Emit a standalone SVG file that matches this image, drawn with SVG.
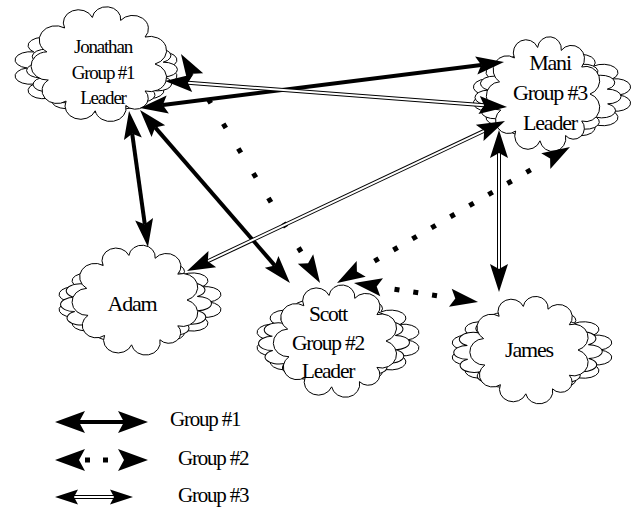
<svg xmlns="http://www.w3.org/2000/svg" width="636" height="509" viewBox="0 0 636 509">
<style>
.cl{fill:#fff;stroke:#000;stroke-width:1}
text{font-family:"Liberation Serif","Times New Roman",serif;fill:#000;text-anchor:middle;letter-spacing:-1.2px}
.lg{text-anchor:start}
.g1{fill:none;stroke:#000;stroke-width:4}
.g2{fill:none;stroke:#000;stroke-width:5}
.g3o{fill:none;stroke:#000;stroke-width:4}
.g3i{fill:none;stroke:#fff;stroke-width:2}
.mk{fill:none;stroke:none}
</style>
<defs>
<path id="cf" vector-effect="non-scaling-stroke" d="M1,0 A.1,.1 0 0 1 .819,.574 A.1,.1 0 0 1 .469,.883 A.1,.1 0 0 1 -.087,.996 A.1,.1 0 0 1 -.616,.788 A.1,.1 0 0 1 -.94,.342 A.1,.1 0 0 1 -.966,-.259 A.1,.1 0 0 1 -.643,-.766 A.1,.1 0 0 1 -.139,-.99 A.1,.1 0 0 1 .375,-.927 A.1,.1 0 0 1 .819,-.574 A.1,.1 0 0 1 1,0 Z"/>
<path id="cb" vector-effect="non-scaling-stroke" d="M1,0 A.1,.1 0 0 1 .901,.434 A.1,.1 0 0 1 .623,.782 A.1,.1 0 0 1 .223,.975 A.1,.1 0 0 1 -.223,.975 A.1,.1 0 0 1 -.623,.782 A.1,.1 0 0 1 -.901,.434 A.1,.1 0 0 1 -1,0 A.1,.1 0 0 1 -.901,-.434 A.1,.1 0 0 1 -.623,-.782 A.1,.1 0 0 1 -.223,-.975 A.1,.1 0 0 1 .223,-.975 A.1,.1 0 0 1 .623,-.782 A.1,.1 0 0 1 .901,-.434 A.1,.1 0 0 1 1,0 Z"/>
<marker id="ah" viewBox="-6 -10 32 20" refX="0" refY="0" markerWidth="32" markerHeight="20" markerUnits="userSpaceOnUse" orient="auto-start-reverse" overflow="visible"><path d="M-5,-9 L23,0 L-5,9 L0,0 Z" fill="#000"/></marker>
<marker id="ahL" viewBox="-7 -12 32 24" refX="0" refY="0" markerWidth="32" markerHeight="24" markerUnits="userSpaceOnUse" orient="auto-start-reverse" overflow="visible"><path d="M-6,-11 L24,0 L-6,11 L0,0 Z" fill="#000"/></marker>
<marker id="ahS" viewBox="-5 -8 25 16" refX="0" refY="0" markerWidth="25" markerHeight="16" markerUnits="userSpaceOnUse" orient="auto-start-reverse" overflow="visible"><path d="M-4,-7.5 L19,0 L-4,7.5 L0,0 Z" fill="#000"/></marker>
</defs>

<g id="jonathan">
<use href="#cb" class="cl" transform="translate(96,68) scale(69,37)"/>
<use href="#cb" class="cl" transform="translate(102,70) scale(63,33) rotate(12)"/>
<use href="#cf" class="cl" transform="translate(100,64) scale(55,47)"/>
<text font-size="19"><tspan x="103" y="53">Jonathan</tspan><tspan x="103" y="79">Group #1</tspan><tspan x="103" y="104">Leader</tspan></text>
</g>

<g id="mani">
<use href="#cb" class="cl" transform="translate(552,95) scale(67,37)"/>
<use href="#cb" class="cl" transform="translate(548,97) scale(61,33) rotate(12)"/>
<use href="#cf" class="cl" transform="translate(544,94) scale(46,47)"/>
<text font-size="22"><tspan x="550" y="70">Mani</tspan><tspan x="550" y="100">Group #3</tspan><tspan x="550" y="130">Leader</tspan></text>
</g>

<g id="adam">
<use href="#cb" class="cl" transform="translate(140,302) scale(69,35)"/>
<use href="#cb" class="cl" transform="translate(136,304) scale(63,32) rotate(12)"/>
<use href="#cf" class="cl" transform="translate(136,300) scale(51,45)"/>
<text font-size="22" x="132" y="311">Adam</text>
</g>

<g id="scott">
<use href="#cb" class="cl" transform="translate(338,340) scale(69,36)"/>
<use href="#cb" class="cl" transform="translate(334,343) scale(63,32) rotate(12)"/>
<use href="#cf" class="cl" transform="translate(336,341) scale(50,46)"/>
<text font-size="21.5"><tspan x="328" y="321">Scott</tspan><tspan x="328" y="350">Group #2</tspan><tspan x="328" y="378">Leader</tspan></text>
</g>

<g id="james">
<use href="#cb" class="cl" transform="translate(532,350) scale(68,34)"/>
<use href="#cb" class="cl" transform="translate(528,352) scale(62,31) rotate(12)"/>
<use href="#cf" class="cl" transform="translate(530,350) scale(48,44)"/>
<text font-size="22" x="529" y="357">James</text>
</g>

<g id="connectors">
<path class="g1" d="M162.8,105.1 L481.2,64.9" marker-start="url(#ah)" marker-end="url(#ah)"/>
<path class="g3o" d="M187.9,82.7 L484.1,105.3"/>
<path class="g3i" d="M187.9,82.7 L484.1,105.3" marker-start="url(#ah)" marker-end="url(#ah)"/>
<path class="mk" d="M192.9,73.7 L308.1,263.3" marker-start="url(#ah)" marker-end="url(#ah)"/>
<path class="g2" d="M208.2,98.9 L301.1,251.9" stroke-dasharray="5 24"/>
<path class="g1" d="M132.2,133.8 L144.8,224.2" marker-start="url(#ah)" marker-end="url(#ah)"/>
<path class="g1" d="M155.1,127.4 L274.9,265.6" marker-start="url(#ah)" marker-end="url(#ah)"/>
<path class="g3o" d="M484.2,130.8 L207.8,261.2"/>
<path class="g3i" d="M484.2,130.8 L207.8,261.2" marker-start="url(#ah)" marker-end="url(#ah)"/>
<path class="mk" d="M550.1,158.6 L356.9,271.4" marker-start="url(#ah)" marker-end="url(#ah)"/>
<path class="g2" d="M530.7,169.9 L374.4,261.1" stroke-dasharray="5 17"/>
<path class="mk" d="M376.7,286.5 L455.3,298.5" marker-start="url(#ah)" marker-end="url(#ah)"/>
<path class="g2" d="M394.5,289.2 L437,295.7" stroke-dasharray="5 14"/>
<path class="g3o" d="M499,153 L499,269"/>
<path class="g3i" d="M499,153 L499,269" marker-start="url(#ah)" marker-end="url(#ah)"/>
</g>

<g id="legend">
<path class="g1" d="M79,422 L124,422" marker-start="url(#ahL)" marker-end="url(#ahL)"/>
<path class="mk" d="M79,460 L124,460" marker-start="url(#ahL)" marker-end="url(#ahL)"/>
<path class="g2" d="M85,460 L108,460" stroke-dasharray="5 13"/>
<path class="g3o" d="M74,497 L114,497"/>
<path class="g3i" d="M74,497 L114,497" marker-start="url(#ahS)" marker-end="url(#ahS)"/>
<text class="lg" font-size="21" x="170" y="426">Group #1</text>
<text class="lg" font-size="21" x="178" y="465">Group #2</text>
<text class="lg" font-size="21" x="178" y="502">Group #3</text>
</g>
</svg>
